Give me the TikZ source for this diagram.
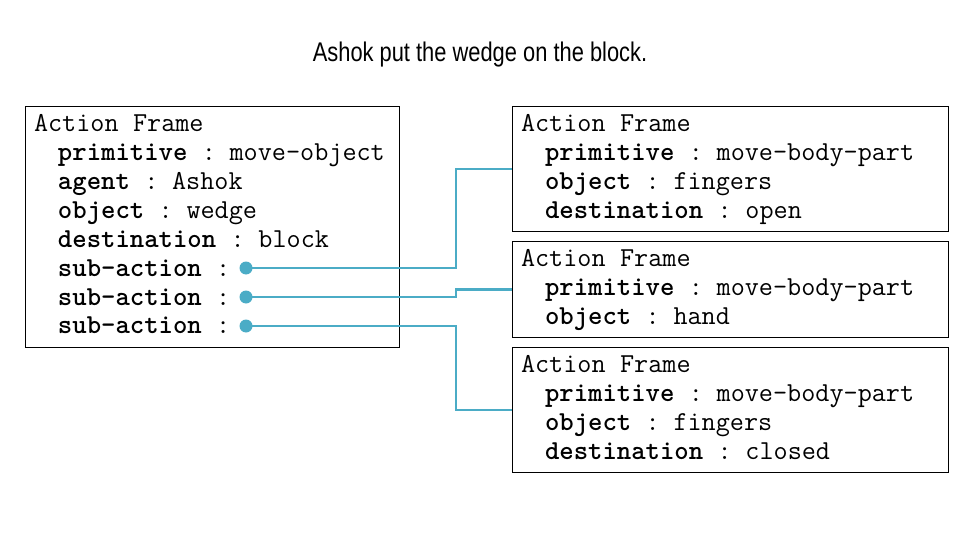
\documentclass[tikz,border=0pt]{standalone}
\usepackage{fontspec}
\setsansfont{Liberation Sans}[FakeStretch=0.81]
\usepackage[HTML]{xcolor}
\usepackage{tikz}
\usetikzlibrary{positioning}

\definecolor{linkteal}{HTML}{4BACC6}
\newcommand{\fslot}[2]{\hspace*{24pt}\textbf{#1} : #2}

\begin{document}
\begin{tikzpicture}[x=1pt, y=-1pt,
  frame/.style={draw, line width=1pt, anchor=north west, align=left,
    inner xsep=8.5pt, inner ysep=0pt,
    font=\ttfamily\fontsize{27.4}{28.9}\selectfont,
    execute at begin node={\spaceskip=14.385pt\relax}},
  dot/.style={circle, fill=linkteal, inner sep=0pt, minimum size=13pt},
  link/.style={draw=linkteal, line width=2.7pt}]
\useasboundingbox (0,0) rectangle (960,540);

\node[font=\sffamily\fontsize{27}{32}\selectfont] (title) at (480,55) {Ashok put the wedge on the block.};

% the main frame
\node[frame, minimum width=374pt, minimum height=241pt, text width=357pt] (main) at (25,106) {\strut Action Frame\\
\fslot{primitive}{move-object}\\
\fslot{agent}{Ashok}\\
\fslot{object}{wedge}\\
\fslot{destination}{block}\\
\fslot{sub-action}{}\\
\fslot{sub-action}{}\\
\fslot{sub-action}{}\strut};

% sub-action frames
\node[frame, minimum width=436pt, minimum height=125pt, text width=419pt] (sub1) at (512,106) {\strut Action Frame\\
\fslot{primitive}{move-body-part}\\
\fslot{object}{fingers}\\
\fslot{destination}{open}\strut};
\node[frame, minimum width=436pt, minimum height=96pt, text width=419pt] (sub2) at (512,241) {\strut Action Frame\\
\fslot{primitive}{move-body-part}\\
\fslot{object}{hand}\strut};
\node[frame, minimum width=436pt, minimum height=125pt, text width=419pt] (sub3) at (512,347) {\strut Action Frame\\
\fslot{primitive}{move-body-part}\\
\fslot{object}{fingers}\\
\fslot{destination}{closed}\strut};

\node[dot] (s1) at (246,268) {};
\node[dot] (s2) at (246,297) {};
\node[dot] (s3) at (246,326) {};
\coordinate (bend) at (456,0);

\draw[link] (s1.center) -- (s1.center -| bend) |- (sub1.west);
\draw[link] (s2.center) -- (s2.center -| bend) |- (sub2.west);
\draw[link] (s3.center) -- (s3.center -| bend) |- (sub3.west);
\end{tikzpicture}
\end{document}
